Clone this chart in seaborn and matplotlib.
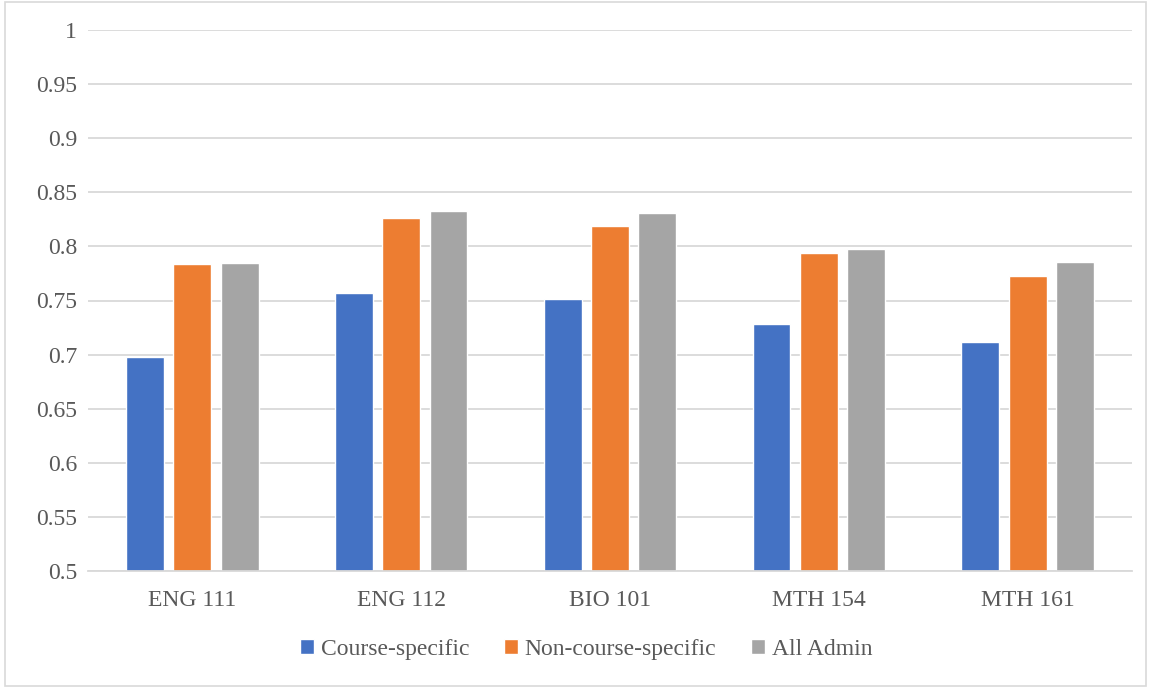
import matplotlib
matplotlib.use('Agg')
import matplotlib.pyplot as plt
import pandas as pd
import seaborn as sns
from matplotlib.patches import Rectangle

courses = ['ENG 111', 'ENG 112', 'BIO 101', 'MTH 154', 'MTH 161']
groups = ['Course-specific', 'Non-course-specific', 'All Admin']
course_specific = [0.698, 0.757, 0.751, 0.728, 0.712]
non_course_specific = [0.784, 0.826, 0.819, 0.794, 0.773]
all_admin = [0.785, 0.833, 0.831, 0.798, 0.786]
colors = ['#4472C4', '#ED7D31', '#A5A5A5']
yticks = [0.5, 0.55, 0.6, 0.65, 0.7, 0.75, 0.8, 0.85, 0.9, 0.95, 1]

df = pd.DataFrame({
    'course': courses * 3,
    'group': [g for g in groups for _ in courses],
    'value': course_specific + non_course_specific + all_admin,
})

sns.set_theme(style='white')
plt.rcParams['font.family'] = ['Liberation Serif', 'DejaVu Serif']

fig = plt.figure(figsize=(11.49, 6.87), dpi=100)
ax = fig.add_axes([88 / 1149, 1 - 571 / 687, (1132 - 88) / 1149, (571 - 30) / 687])

sns.barplot(data=df, x='course', y='value', hue='group', order=courses,
            hue_order=groups, palette=colors, width=0.68, gap=0.2,
            saturation=1, ax=ax, legend=True)

ax.set_ylim(0.5, 1.0)
ax.set_xlim(-0.5, 4.5)
ax.set_yticks(yticks)
ax.set_yticklabels([f'{t:g}' for t in yticks])
ax.yaxis.grid(True, color='#D9D9D9', lw=1.3)
ax.set_axisbelow(True)
for s in ['top', 'right', 'left']:
    ax.spines[s].set_visible(False)
ax.spines['bottom'].set_color('#D9D9D9')
ax.spines['bottom'].set_linewidth(1.3)
ax.tick_params(axis='both', length=0, labelsize=17, colors='#595959')
ax.tick_params(axis='y', pad=8)
ax.tick_params(axis='x', pad=14)
ax.set_xlabel('')
ax.set_ylabel('')

# legend sits a bit left of the axes centre, like the original
handles, labels = ax.get_legend_handles_labels()
ax.legend(handles, labels, loc='center', bbox_to_anchor=(0.477, -0.145),
          ncol=3, frameon=False, fontsize=17, handlelength=0.6,
          handleheight=0.6, handletextpad=0.3, columnspacing=1.45,
          labelcolor='#595959')

fig.patches.append(Rectangle((5 / 1149, 1 / 687), 1141 / 1149, 684 / 687,
                             transform=fig.transFigure, fill=False,
                             edgecolor='#D9D9D9', lw=1.2))

fig.savefig('out.png', dpi=100)
